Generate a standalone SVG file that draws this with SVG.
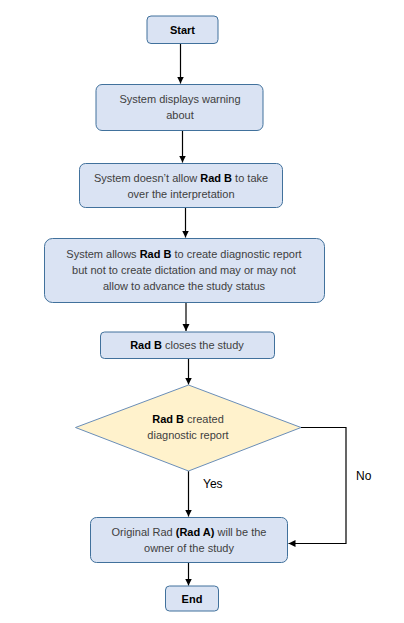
<svg xmlns="http://www.w3.org/2000/svg" width="404" height="623" viewBox="0 0 404 623">
<style>
.box{fill:#DAE3F3;stroke:#41719C;stroke-width:1}
.dia{fill:#FFF2CC;stroke:#6A8EB8;stroke-width:1}
.t{font-family:"Liberation Sans",Arial,sans-serif;font-size:11px;fill:#404040;text-anchor:middle}
.b{font-weight:bold;fill:#000}
.lbl{font-family:"Liberation Sans",Arial,sans-serif;font-size:12px;fill:#000}
.c{stroke:#000;stroke-width:1.2;fill:none}
</style>
<defs>
<marker id="ah" markerWidth="8" markerHeight="8" refX="7" refY="4" orient="auto" markerUnits="userSpaceOnUse">
<path d="M0,0.5 L7,4 L0,7.5 Z" fill="#000"/>
</marker>
</defs>
<rect width="404" height="623" fill="#fff"/>
<g id="connectors">
<line class="c" x1="180.5" y1="44" x2="180.5" y2="83.5" marker-end="url(#ah)"/>
<line class="c" x1="182.5" y1="131" x2="182.5" y2="162.5" marker-end="url(#ah)"/>
<line class="c" x1="185.5" y1="208" x2="185.5" y2="237.5" marker-end="url(#ah)"/>
<line class="c" x1="186" y1="303" x2="186" y2="331" marker-end="url(#ah)"/>
<line class="c" x1="188.5" y1="359" x2="188.5" y2="384.5" marker-end="url(#ah)"/>
<line class="c" x1="188.5" y1="471" x2="188.5" y2="516.5" marker-end="url(#ah)"/>
<polyline class="c" points="301,427.5 346,427.5 346,543.5 288.5,543.5" marker-end="url(#ah)"/>
<line class="c" x1="188.5" y1="563" x2="188.5" y2="585.5" marker-end="url(#ah)"/>
<text class="lbl" x="203" y="488">Yes</text>
<text class="lbl" x="356" y="480">No</text>
</g>
<g id="start">
<rect class="box" x="147" y="16" width="71" height="27.5" rx="4"/>
<text class="t b" x="182.5" y="34" font-size="12">Start</text>
</g>
<g id="warning">
<rect class="box" x="96" y="84.5" width="167" height="46" rx="6"/>
<text class="t" x="180" y="103">System displays warning</text>
<text class="t" x="180" y="119">about</text>
</g>
<g id="noTakeover">
<rect class="box" x="79.5" y="163.5" width="203" height="44" rx="6"/>
<text class="t" x="181" y="182">System doesn’t allow <tspan class="b">Rad B</tspan> to take</text>
<text class="t" x="181" y="198">over the interpretation</text>
</g>
<g id="allowReport">
<rect class="box" x="44.5" y="238.5" width="280" height="64" rx="8"/>
<text class="t" x="184" y="258">System allows <tspan class="b">Rad B</tspan> to create diagnostic report</text>
<text class="t" x="184" y="274">but not to create dictation and may or may not</text>
<text class="t" x="184" y="290">allow to advance the study status</text>
</g>
<g id="closes">
<rect class="box" x="100.5" y="332" width="174" height="26.5" rx="4"/>
<text class="t" x="187" y="349"><tspan class="b">Rad B</tspan> closes the study</text>
</g>
<g id="decision">
<polygon class="dia" points="188.5,385 301,427.5 188.5,471 75.5,427.5"/>
<text class="t" x="188" y="423"><tspan class="b">Rad B</tspan> created</text>
<text class="t" x="188" y="439">diagnostic report</text>
</g>
<g id="owner">
<rect class="box" x="90.5" y="517.5" width="197" height="45" rx="6"/>
<text class="t" x="189" y="536">Original Rad <tspan class="b">(Rad A)</tspan> will be the</text>
<text class="t" x="189" y="552">owner of the study</text>
</g>
<g id="end">
<rect class="box" x="165.5" y="586" width="53" height="25" rx="4"/>
<text class="t b" x="192" y="603" font-size="12">End</text>
</g>
</svg>
